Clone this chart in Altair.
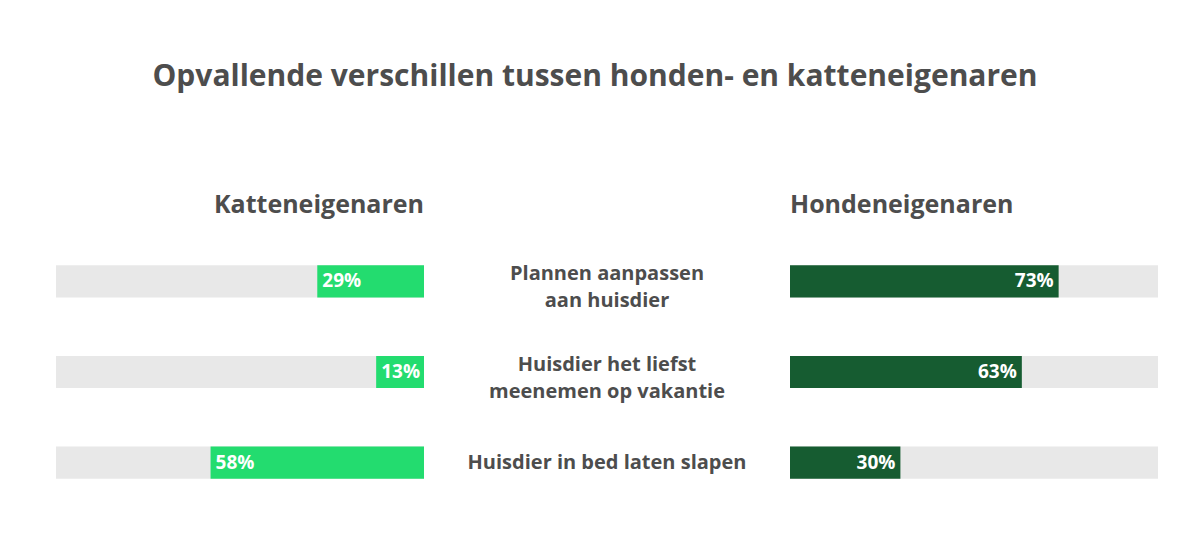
import altair as alt
import pandas as pd

categories = [
    "Plannen aanpassen\naan huisdier",
    "Huisdier het liefst\nmeenemen op vakantie",
    "Huisdier in bed laten slapen",
]
cat_values = [29, 13, 58]
dog_values = [73, 63, 30]
full_values = [100, 100, 100]

df = pd.DataFrame({"item": categories, "cat": cat_values, "dog": dog_values, "full": full_values})
df["cat_label"] = df["cat"].astype(str) + "%"
df["dog_label"] = df["dog"].astype(str) + "%"
df["multi"] = df["item"].str.contains("\n")

FONT = "Open Sans"
TEXT = "#4d4d4d"
LIGHT = "#23dc6f"
DARK = "#165c31"
TRACK = "#e8e8e8"

H = 272
y = alt.Y("item:N", sort=categories, axis=None,
          scale=alt.Scale(paddingInner=0.646, paddingOuter=0.323))

# Left panel (cat owners), bars grow from right to left
lscale = alt.Scale(domain=[0, 100], reverse=True)
lbase = alt.Chart(df).encode(y=y)
left = alt.layer(
    lbase.mark_bar(color=TRACK).encode(x=alt.X("full:Q", scale=lscale, axis=None)),
    lbase.mark_bar(color=LIGHT).encode(x=alt.X("cat:Q", scale=lscale, axis=None)),
    lbase.mark_text(align="left", baseline="middle", dx=5, color="white",
                    font=FONT, fontWeight="bold", fontSize=19).encode(
        x=alt.X("cat:Q", scale=lscale, axis=None), text="cat_label:N"),
).properties(width=368, height=H,
             title=alt.Title("Katteneigenaren", anchor="end", fontSize=25, font=FONT,
                             fontWeight="bold", color=TEXT, baseline="top", offset=18))

# Center labels
cbase = alt.Chart(df).encode(y=y, x=alt.value(183), text="item:N")
text_style = dict(align="center", baseline="middle", lineBreak="\n", lineHeight=27,
                  font=FONT, fontWeight="bold", fontSize=20, color=TEXT)
center = alt.layer(
    cbase.mark_text(dy=-7, **text_style).transform_filter("datum.multi"),
    cbase.mark_text(dy=0, **text_style).transform_filter("!datum.multi"),
).properties(width=366, height=H)

# Right panel (dog owners)
rscale = alt.Scale(domain=[0, 100])
rbase = alt.Chart(df).encode(y=y)
right = alt.layer(
    rbase.mark_bar(color=TRACK).encode(x=alt.X("full:Q", scale=rscale, axis=None)),
    rbase.mark_bar(color=DARK).encode(x=alt.X("dog:Q", scale=rscale, axis=None)),
    rbase.mark_text(align="right", baseline="middle", dx=-5, color="white",
                    font=FONT, fontWeight="bold", fontSize=19).encode(
        x=alt.X("dog:Q", scale=rscale, axis=None), text="dog_label:N"),
).properties(width=368, height=H,
             title=alt.Title("Hondeneigenaren", anchor="start", fontSize=25, font=FONT,
                             fontWeight="bold", color=TEXT, baseline="top", offset=18))

chart = alt.hconcat(left, center, right, spacing=0).properties(
    title=alt.Title("Opvallende verschillen tussen honden- en katteneigenaren",
                    anchor="middle", fontSize=30, font=FONT, fontWeight="bold",
                    color=TEXT, offset=101, dx=-12),
    padding={"left": 48, "top": 54, "right": 0, "bottom": 0},
    background="white",
).configure_view(stroke=None).configure_concat(spacing=0)

chart.save("out.html", embed_options={"renderer": "svg", "actions": False})
